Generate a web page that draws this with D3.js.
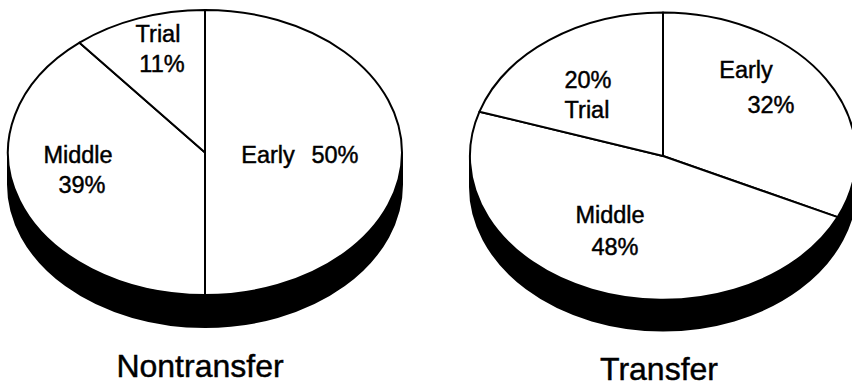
<!DOCTYPE html>
<html><head><meta charset="utf-8">
<script src="https://cdn.jsdelivr.net/npm/d3@7"></script>
<style>
html,body{margin:0;padding:0;background:#fff;}
svg{display:block;}
text{font-family:"Liberation Sans",Arial,Helvetica,sans-serif;fill:#000;stroke:#000;stroke-width:0.45px;}
</style></head>
<body>
<svg id="chart" width="852" height="386"></svg>
<script>
// ---- data ----
const categories = ["Early", "Middle", "Trial"];
const nontransferValues = [50, 39, 11];
const transferValues = [32, 48, 20];
const titles = ["Nontransfer", "Transfer"];

// ---- layout ----
const pies = [
  { values: nontransferValues, title: titles[0], cx: 205, cy: 152.5, rx: 197, ry: 142.5, depth: 32, titleX: 200, titleY: 377,
    labels: [
      { lines: [{t: categories[0], x: 268, y: 163}, {t: nontransferValues[0] + "%", x: 335, y: 163}] },
      { lines: [{t: categories[1], x: 78, y: 163}, {t: nontransferValues[1] + "%", x: 82, y: 193}] },
      { lines: [{t: categories[2], x: 158, y: 42}, {t: nontransferValues[2] + "%", x: 162, y: 72}] }
    ] },
  { values: transferValues, title: titles[1], cx: 663, cy: 156, rx: 193, ry: 143.5, depth: 31, titleX: 659, titleY: 380,
    labels: [
      { lines: [{t: categories[0], x: 746, y: 78}, {t: transferValues[0] + "%", x: 771, y: 113}] },
      { lines: [{t: categories[1], x: 610, y: 223}, {t: transferValues[1] + "%", x: 615, y: 255}] },
      { lines: [{t: transferValues[2] + "%", x: 588, y: 88}, {t: categories[2], x: 587, y: 118}] }
    ] }
];

const svg = d3.select("#chart");
const pieGen = d3.pie().sort(null).value(d => d).startAngle(0).endAngle(2 * Math.PI);
const arcGen = d3.arc().innerRadius(0).outerRadius(1);

pies.forEach(p => {
  const g = svg.append("g");
  const { cx, cy, rx, ry, depth } = p;
  // side band (3D depth)
  const sidePath = `M${cx - rx},${cy} L${cx - rx},${cy + depth} A${rx},${ry} 0 0 0 ${cx + rx},${cy + depth} L${cx + rx},${cy} A${rx},${ry} 0 0 1 ${cx - rx},${cy} Z`;
  g.append("path").attr("d", sidePath).attr("fill", "#000").attr("stroke", "#000").attr("stroke-width", 2);

  // top face slices
  const face = g.append("g").attr("transform", `translate(${cx},${cy}) scale(${rx},${ry})`);
  face.selectAll("path.slice")
    .data(pieGen(p.values))
    .join("path")
    .attr("class", "slice")
    .attr("d", arcGen)
    .attr("fill", "#fff")
    .attr("stroke", "#000")
    .attr("stroke-width", 2)
    .attr("stroke-linejoin", "round")
    .attr("vector-effect", "non-scaling-stroke");

  // labels
  p.labels.forEach(lab => {
    lab.lines.forEach(l => {
      g.append("text").attr("x", l.x).attr("y", l.y).attr("text-anchor", "middle")
        .attr("font-size", 23.5).text(l.t);
    });
  });

  // title
  g.append("text").attr("x", p.titleX).attr("y", p.titleY).attr("text-anchor", "middle")
    .attr("font-size", 32).text(p.title);
});
</script>
</body></html>
